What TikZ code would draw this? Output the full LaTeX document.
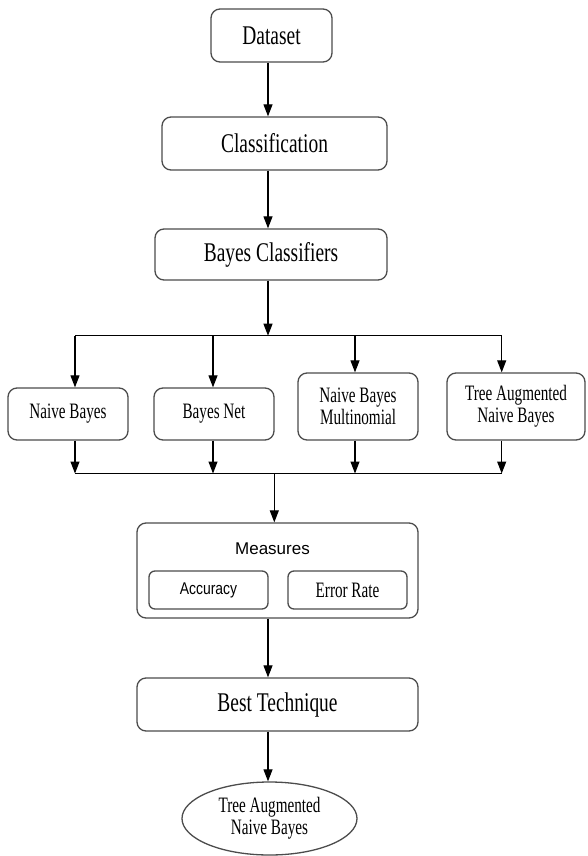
\documentclass[tikz,border=0pt]{standalone}
\usepackage{fontspec}
\usetikzlibrary{shapes.geometric,arrows.meta}
\setmainfont{Liberation Serif}
\newfontfamily\bigserif[FakeStretch=0.72]{Liberation Serif}
\newfontfamily\smallserif[FakeStretch=0.69]{Liberation Serif}
\newfontfamily\sansA{Liberation Sans}
\newfontfamily\sansB[FakeStretch=0.82]{Liberation Sans}
\newcommand{\bigtxt}{\bigserif\fontsize{27}{27}\selectfont}
\newcommand{\smalltxt}{\smallserif\fontsize{22}{22}\selectfont}
\begin{document}
\begin{tikzpicture}[x=1pt,y=-1pt,
  box/.style={draw=black!70, line width=1.3pt, rounded corners=9pt, inner sep=0pt, align=center},
  bigbox/.style={box, font=\bigtxt},
  smallbox/.style={box, font=\smalltxt},
  conn/.style={draw=black, line width=1.1pt},
  arr/.style={conn, -{Triangle[length=12pt,width=9pt]}}]
\useasboundingbox (0,0) rectangle (587,856);

\node[bigbox, minimum width=121pt, minimum height=53pt] (dataset) at (271.5,35.5) {Dataset};
\node[bigbox, minimum width=225pt, minimum height=53pt] (classif) at (274.5,143.5) {Classification};
\node[bigbox, minimum width=232pt, minimum height=51pt] (bayes) at (271,254.5) {Bayes Classifiers};

\node[smallbox, minimum width=120pt, minimum height=52pt] (nb) at (68,414) {Naive Bayes};
\node[smallbox, minimum width=120pt, minimum height=52pt] (bn) at (214,414) {Bayes Net};
\node[smallbox, minimum width=120pt, minimum height=67pt] (nbm) at (358,406.5) {Naive Bayes\\Multinomial};
\node[smallbox, minimum width=138pt, minimum height=67pt] (tan) at (516,406.5) {Tree Augmented\\Naive Bayes};

\node[box, minimum width=281pt, minimum height=95pt] (measures) at (277.5,570.5) {};
\node[font=\sansA\fontsize{17}{17}\selectfont, inner sep=0pt] (mtitle) at (272.5,549) {Measures};
\node[box, rounded corners=6pt, minimum width=119pt, minimum height=38pt, font=\sansB\fontsize{17}{17}\selectfont] (acc) at (208.5,590) {Accuracy};
\node[smallbox, rounded corners=6pt, minimum width=119pt, minimum height=38pt] (err) at (347.5,590) {Error Rate};

\node[bigbox, minimum width=281pt, minimum height=53pt] (best) at (277.5,704.5) {Best Technique};
\node[draw=black!70, line width=1.3pt, ellipse, inner sep=0pt, minimum width=175pt, minimum height=73pt, align=center, font=\smalltxt] (result) at (269.5,818.5) {Tree Augmented\\Naive Bayes};

\coordinate (ax) at (268,0);
\coordinate (j1) at (268,335.7);
\coordinate (L1) at (75,335.7);
\coordinate (L2) at (213,335.7);
\coordinate (L3) at (355,335.7);
\coordinate (L4) at (501.7,335.7);
\coordinate (B1) at (75,473.5);
\coordinate (B2) at (213,473.5);
\coordinate (B3) at (355,473.5);
\coordinate (B4) at (501.7,473.5);
\coordinate (Bm) at (274.3,473.5);

\draw[arr] (dataset.south -| ax) -- (classif.north -| ax);
\draw[arr] (classif.south -| ax) -- (bayes.north -| ax);
\draw[arr] (bayes.south -| ax) -- (j1);
\draw[conn] (L1) -- (L4);
\draw[arr] (L1) -- (nb.north -| L1);
\draw[arr] (L2) -- (bn.north -| L2);
\draw[arr] (L3) -- (nbm.north -| L3);
\draw[arr] (L4) -- (tan.north -| L4);

\draw[arr] (nb.south -| B1) -- (B1);
\draw[arr] (bn.south -| B2) -- (B2);
\draw[arr] (nbm.south -| B3) -- (B3);
\draw[arr] (tan.south -| B4) -- (B4);
\draw[conn] (B1) -- (B4);
\draw[arr] (Bm) -- (measures.north -| Bm);

\draw[arr] (measures.south -| ax) -- (best.north -| ax);
\draw[arr] (best.south -| ax) -- (result.north -| ax);
\end{tikzpicture}
\end{document}
